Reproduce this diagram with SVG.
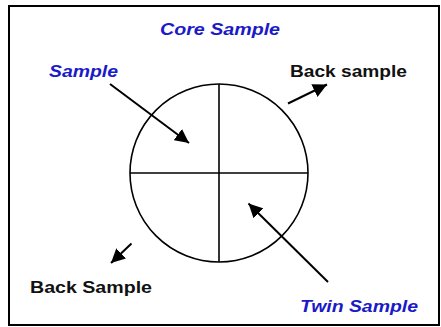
<svg xmlns="http://www.w3.org/2000/svg" width="441" height="327" viewBox="0 0 441 327">
<defs>
<style>
.frame{fill:#fff;stroke:#000;stroke-width:2}
.ln{stroke:#000;stroke-width:1.6;fill:none}
.ar{stroke:#000;stroke-width:2;fill:none}
.blue{font-family:"Liberation Sans",Arial,sans-serif;font-weight:bold;font-style:italic;fill:#1a1ac8;font-size:16px}
.blk{font-family:"Liberation Sans",Arial,sans-serif;font-weight:bold;fill:#111;font-size:16px}
</style>
<marker id="ah" viewBox="0 0 10 10" refX="10" refY="5" markerWidth="14" markerHeight="14" markerUnits="userSpaceOnUse" orient="auto">
<path d="M0,0 L10,5 L0,10 Z" fill="#000"/>
</marker>
</defs>
<rect class="frame" x="9" y="6" width="430" height="319"/>
<g id="core">
<circle class="ln" cx="219" cy="173" r="89"/>
<line class="ln" x1="219" y1="84" x2="219" y2="262"/>
<line class="ln" x1="130" y1="173" x2="308" y2="173"/>
</g>
<g id="title"><text class="blue" x="160" y="35" textLength="120" lengthAdjust="spacingAndGlyphs">Core Sample</text></g>
<g id="sample"><text class="blue" x="49" y="77" textLength="69" lengthAdjust="spacingAndGlyphs">Sample</text></g>
<g id="back-sample-top"><text class="blk" x="290" y="77" textLength="117" lengthAdjust="spacingAndGlyphs">Back sample</text></g>
<g id="back-sample-bottom"><text class="blk" x="30" y="293" textLength="122" lengthAdjust="spacingAndGlyphs">Back Sample</text></g>
<g id="twin-sample"><text class="blue" x="300" y="312" textLength="118" lengthAdjust="spacingAndGlyphs">Twin Sample</text></g>
<g id="connectors">
<line class="ar" x1="110" y1="84" x2="189" y2="143" marker-end="url(#ah)"/>
<line class="ar" x1="288" y1="103.5" x2="327" y2="84.5" marker-end="url(#ah)"/>
<line class="ar" x1="131.5" y1="243.5" x2="111" y2="263" marker-end="url(#ah)"/>
<line class="ar" x1="328" y1="282" x2="248.5" y2="203.5" marker-end="url(#ah)"/>
</g>
</svg>
